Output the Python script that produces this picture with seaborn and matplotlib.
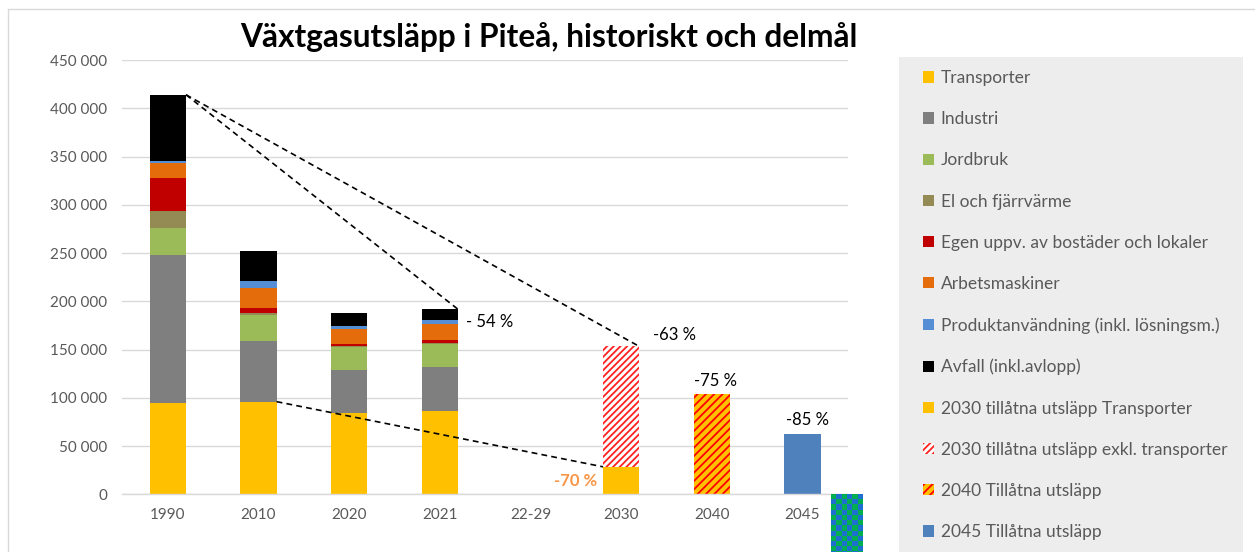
import numpy as np
import pandas as pd
import matplotlib
matplotlib.use("Agg")
import matplotlib.pyplot as plt
from matplotlib.patches import Patch, Rectangle
from matplotlib.lines import Line2D
from matplotlib.colors import ListedColormap
from matplotlib.ticker import FuncFormatter, MultipleLocator
import seaborn as sns

# ---- data -------------------------------------------------------------
categories = ["1990", "2010", "2020", "2021", "22-29", "2030", "2040", "2045"]
history_years = ["1990", "2010", "2020", "2021"]

sector_names = [
    "Transporter",
    "Industri",
    "Jordbruk",
    "El och fjärrvärme",
    "Egen uppv. av bostäder och lokaler",
    "Arbetsmaskiner",
    "Produktanvändning (inkl. lösningsm.)",
    "Avfall (inkl.avlopp)",
]
transporter = [95000, 96000, 84500, 86300]
industri = [153000, 63000, 44300, 45300]
jordbruk = [27600, 27000, 23500, 23800]
el_fjarrvarme = [18200, 1700, 1700, 1300]
egen_uppvarmning = [33600, 5800, 1700, 2800]
arbetsmaskiner = [15600, 20100, 15300, 16600]
produktanvandning = [2300, 7600, 3700, 4500]
avfall = [68700, 31400, 12800, 11100]

target_names = [
    "2030 tillåtna utsläpp Transporter",
    "2030 tillåtna utsläpp exkl. transporter",
    "2040 Tillåtna utsläpp",
    "2045 Tillåtna utsläpp",
]
target_2030_transport = 28500
target_2030_other = 124700
target_2040 = 103500
target_2045 = 62100
negative_2045 = -70000

change_labels = ["- 54 %", "-63 %", "-75 %", "-85 %", "-70 %"]

title = "Växtgasutsläpp i Piteå, historiskt och delmål"

# ---- style ------------------------------------------------------------
sector_colors = ["#FFC000", "#7F7F7F", "#9BBB59", "#948A54",
                 "#C00000", "#E46C0A", "#558ED5", "#000000"]
blue_2045 = "#4F81BD"
grid_gray = "#D9D9D9"
text_gray = "#595959"
bar_w = 0.4

sns.set_theme(style="white")
plt.rcParams["font.family"] = ["Lato", "DejaVu Sans"]
plt.rcParams["hatch.linewidth"] = 1.3

fig = plt.figure(figsize=(12.55, 5.52), dpi=100)
ax = fig.add_axes([0.0976, 0.1045, 0.578, 0.7868])

# stacked historic bars: draw cumulative totals from the top layer down
sectors = [transporter, industri, jordbruk, el_fjarrvarme,
           egen_uppvarmning, arbetsmaskiner, produktanvandning, avfall]
cum = np.cumsum(np.array(sectors), axis=0)
for i in range(len(sectors) - 1, -1, -1):
    sns.barplot(x=history_years, y=cum[i], order=categories, color=sector_colors[i],
                saturation=1, width=bar_w, errorbar=None, linewidth=0, ax=ax, zorder=2)

# target bars
total_2030 = target_2030_transport + target_2030_other
sns.barplot(x=["2030"], y=[total_2030], order=categories, facecolor="white",
            edgecolor="#FF2020", hatch="/////", linewidth=0, width=bar_w,
            errorbar=None, ax=ax, zorder=2)
sns.barplot(x=["2030"], y=[target_2030_transport], order=categories, color="#FFC000",
            saturation=1, linewidth=0, width=bar_w, errorbar=None, ax=ax, zorder=2)
sns.barplot(x=["2040"], y=[target_2040], order=categories, facecolor="#FFC000",
            edgecolor="#FF0000", hatch="////", linewidth=0, width=bar_w,
            errorbar=None, ax=ax, zorder=2)
sns.barplot(x=["2045"], y=[target_2045], order=categories, color=blue_2045,
            saturation=1, linewidth=0, width=bar_w, errorbar=None, ax=ax, zorder=2)

# checkered negative-emission bar just right of 2045
neg = ax.bar(7.49, negative_2045, width=0.35, color="#00B050", linewidth=0,
             clip_on=False, zorder=3)[0]
x0, w_, y0, h_ = neg.get_x(), neg.get_width(), neg.get_y(), neg.get_height()
checker = np.indices((13, 6)).sum(axis=0) % 2
ax.imshow(checker, cmap=ListedColormap(["#00B050", "#1F6FD0"]),
          extent=(x0, x0 + w_, y0 + h_, y0), aspect="auto",
          interpolation="nearest", zorder=3, clip_on=False)

ax.set_xlim(-0.5, 7.5)
ax.set_ylim(0, 450000)

# dashed reduction lines
totals = cum[-1]
dash = dict(color="black", linestyle=(0, (3.5, 2.5)), linewidth=1.2, clip_on=False, zorder=4)
ax.plot([0 + bar_w / 2, 3 + bar_w / 2], [totals[0], totals[3]], **dash)
ax.plot([0 + bar_w / 2, 5 + bar_w / 2], [totals[0], total_2030], **dash)
ax.plot([1 + bar_w / 2, 5 - bar_w / 2], [transporter[1], target_2030_transport], **dash)

# change labels
lab = dict(textcoords="offset points", fontsize=12, color="black", va="center")
ax.annotate(change_labels[0], xy=(3 + bar_w / 2, totals[3]), xytext=(6, -9.5), ha="left", **lab)
ax.annotate(change_labels[1], xy=(5 + bar_w / 2, total_2030), xytext=(25, 8.5), ha="center", **lab)
ax.annotate(change_labels[2], xy=(6, target_2040), xytext=(2.7, 10), ha="center", **lab)
ax.annotate(change_labels[3], xy=(7, target_2045), xytext=(3.8, 10), ha="center", **lab)
ax.annotate(change_labels[4], xy=(5 - bar_w / 2, target_2030_transport / 2), xytext=(-4.5, 0),
            textcoords="offset points", fontsize=12, color="#F79646",
            fontweight="bold", ha="right", va="center")

# axes cosmetics
ax.yaxis.set_major_locator(MultipleLocator(50000))
ax.yaxis.set_major_formatter(FuncFormatter(lambda v, p: f"{v:,.0f}".replace(",", " ")))
ax.yaxis.grid(True, color=grid_gray, linewidth=1)
ax.set_axisbelow(True)
for s in ["top", "right", "left"]:
    ax.spines[s].set_visible(False)
ax.spines["bottom"].set_color(grid_gray)
ax.spines["bottom"].set_linewidth(1)
ax.tick_params(axis="y", length=0, pad=11, labelsize=11, labelcolor=text_gray)
ax.tick_params(axis="x", length=0, pad=10, labelsize=11, labelcolor=text_gray)
ax.set_xlabel("")
ax.set_ylabel("")

# title
fig.text(549 / 1255, 1 - 37 / 552, title, ha="center", va="center",
         fontsize=22.8, fontweight="bold", color="black")

# chart frame and legend panel
fig.add_artist(Line2D([8 / 1255, 1], [1 - 9 / 552] * 2, transform=fig.transFigure,
                      color=grid_gray, linewidth=1))
fig.add_artist(Line2D([8 / 1255] * 2, [0, 1 - 9 / 552], transform=fig.transFigure,
                      color=grid_gray, linewidth=1))
fig.patches.append(Rectangle((899 / 1255, 0), (1243 - 899) / 1255, (552 - 57) / 552,
                             transform=fig.transFigure, facecolor="#EDEDED",
                             edgecolor="none", zorder=0))

handles = [Patch(facecolor=c, edgecolor="none") for c in sector_colors]
handles += [
    Patch(facecolor="#FFC000", edgecolor="none"),
    Patch(facecolor="white", edgecolor="#FF2020", hatch="/////", linewidth=0),
    Patch(facecolor="#FFC000", edgecolor="#FF0000", hatch="////", linewidth=0),
    Patch(facecolor=blue_2045, edgecolor="none"),
]
labels = sector_names + target_names
fig.legend(handles, labels, loc="upper left", bbox_to_anchor=(923 / 1255, 1 - 70 / 552),
           frameon=False, fontsize=12.5, handlelength=0.62, handleheight=0.62,
           handletextpad=0.4, labelspacing=1.45, borderpad=0, borderaxespad=0,
           labelcolor=text_gray)

fig.savefig("out.png", dpi=100)
